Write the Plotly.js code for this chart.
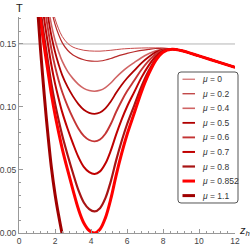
<!DOCTYPE html>
<html>
<head>
<meta charset="utf-8">
<script src="https://cdn.plot.ly/plotly-3.0.1.min.js"></script>
<style>html,body{margin:0;padding:0;background:#fff;}#chart{width:250px;height:250px;}</style>
</head>
<body>
<div id="chart"></div>
<script>
// ---- data ----
const zGrid = [1.0,1.2,1.4,1.6,1.8,2.0,2.2,2.4,2.7,3.0,3.3,3.6,3.9,4.2,4.5,4.8,5.1,5.4,5.7,6.0,6.4,6.8,7.2,7.6,8.0,8.5,9.0,10,11,12];
const T_mu0    = [0.275,0.240,0.215,0.196,0.181,0.170,0.162,0.156,0.1505,0.1475,0.146,0.145,0.1445,0.1443,0.1443,0.1446,0.1450,0.1455,0.1460,0.1463,0.1466,0.1468,0.1469,0.1469,0.1467,0.1461,0.1448,0.1405,0.1360,0.1315];
const T_mu02   = [0.2703,0.2360,0.2113,0.1923,0.1771,0.1658,0.1575,0.1511,0.1450,0.1412,0.1390,0.1375,0.1366,0.1363,0.1365,0.1373,0.1385,0.1400,0.1414,0.1425,0.1438,0.1449,0.1457,0.1464,0.1465,0.1461,0.1448,0.1405,0.1360,0.1315];
const T_mu04   = [0.2563,0.2241,0.2002,0.1812,0.1654,0.1532,0.1439,0.1364,0.1283,0.1225,0.1180,0.1148,0.1131,0.1125,0.1132,0.1154,0.1190,0.1236,0.1277,0.1312,0.1352,0.1391,0.1423,0.1447,0.1460,0.1461,0.1448,0.1405,0.1360,0.1315];
const T_mu05   = [0.2457,0.2152,0.1919,0.1729,0.1565,0.1438,0.1338,0.1253,0.1159,0.1084,0.1023,0.0978,0.0954,0.0946,0.0956,0.0989,0.1044,0.1112,0.1174,0.1228,0.1288,0.1348,0.1397,0.1435,0.1456,0.1460,0.1448,0.1405,0.1360,0.1315];
const T_mu06   = [0.2328,0.2043,0.1818,0.1628,0.1458,0.1323,0.1213,0.1119,0.1007,0.0912,0.0830,0.0771,0.0738,0.0727,0.0742,0.0788,0.0865,0.0962,0.1048,0.1124,0.1210,0.1295,0.1365,0.1420,0.1451,0.1460,0.1448,0.1405,0.1360,0.1315];
const T_mu07   = [0.2176,0.1914,0.1698,0.1508,0.1331,0.1187,0.1067,0.0959,0.0827,0.0709,0.0603,0.0525,0.0483,0.0469,0.0489,0.0551,0.0654,0.0783,0.0900,0.1002,0.1118,0.1233,0.1328,0.1402,0.1445,0.1459,0.1448,0.1405,0.1360,0.1315];
const T_mu08   = [0.2001,0.1765,0.1559,0.1369,0.1184,0.1030,0.0897,0.0775,0.0619,0.0474,0.0340,0.0242,0.0189,0.0171,0.0197,0.0277,0.0410,0.0578,0.0728,0.0861,0.1011,0.1161,0.1285,0.1382,0.1439,0.1458,0.1448,0.1405,0.1360,0.1315];
const T_mu0852 = [0.190,0.168,0.148,0.129,0.110,0.094,0.080,0.067,0.050,0.034,0.019,0.008,0.002,0.000,0.003,0.012,0.027,0.046,0.063,0.078,0.095,0.112,0.126,0.137,0.1435,0.1458,0.1448,0.1405,0.1360,0.1315];
const zMu11    = [0.9,1.0,1.1,1.2,1.3,1.4,1.5,1.6,1.8,2.0,2.2,2.4,2.5];
const T_mu11   = [0.210,0.186,0.165,0.145,0.127,0.110,0.094,0.079,0.052,0.031,0.014,-0.001,-0.008];
const muLabels = ['0','0.2','0.4','0.5','0.6','0.7','0.8','0.852','1.1'];
const refLineZ = [0, 12];
const refLineT = [0.15, 0.15];
const xTickVals = [0,2,4,6,8,10,12];
const yTickVals = [0,0.05,0.10,0.15];

// ---- styles ----
const seriesT = [T_mu0,T_mu02,T_mu04,T_mu05,T_mu06,T_mu07,T_mu08,T_mu0852,T_mu11];
const seriesZ = [zGrid,zGrid,zGrid,zGrid,zGrid,zGrid,zGrid,zGrid,zMu11];
const colors = ['#c84a4a','#b82a2a','#d06464','#b00000','#c43434','#c00000','#a81414','#ff0000','#a00000'];
const widths = [1.0,1.2,1.6,1.8,1.9,2.0,2.2,3.0,3.0];
const FONT = 'Liberation Sans, Arial, sans-serif';

const traces = [{
  x: refLineZ, y: refLineT, mode: 'lines', showlegend: false, hoverinfo: 'skip',
  line: {color: '#b4b4b4', width: 1}
}];
seriesT.forEach((t, i) => {
  traces.push({
    x: seriesZ[i], y: t, mode: 'lines', name: 'μ = ' + muLabels[i], showlegend: false,
    line: {color: colors[i], width: widths[i], shape: 'spline', smoothing: 1}
  });
});

// plot area in pixels: left 19, right 235, top 17, bottom 233
const L0 = 19, R0 = 235, T0px = 17, B0 = 233;
const px2x = px => (px - L0) / (R0 - L0);
const py2y = py => (B0 - py) / (B0 - T0px);

const shapes = [];
const annotations = [];
// legend box (rounded)
const bl = 178, br = 238, bt = 72, bb = 203, r = 3;
const P = (px, py) => px2x(px).toFixed(5) + ',' + py2y(py).toFixed(5);
shapes.push({
  type: 'path', xref: 'paper', yref: 'paper', layer: 'above',
  path: 'M' + P(bl + r, bt) + ' L' + P(br - r, bt) + ' Q' + P(br, bt) + ' ' + P(br, bt + r) +
        ' L' + P(br, bb - r) + ' Q' + P(br, bb) + ' ' + P(br - r, bb) +
        ' L' + P(bl + r, bb) + ' Q' + P(bl, bb) + ' ' + P(bl, bb - r) +
        ' L' + P(bl, bt + r) + ' Q' + P(bl, bt) + ' ' + P(bl + r, bt) + ' Z',
  line: {color: '#555', width: 1}, fillcolor: '#ffffff'
});
muLabels.forEach((lab, i) => {
  const yc = 79.2 + i * 14.55;
  shapes.push({
    type: 'line', xref: 'paper', yref: 'paper', layer: 'above',
    x0: px2x(182.5), x1: px2x(195), y0: py2y(yc), y1: py2y(yc),
    line: {color: colors[i], width: widths[i]}
  });
  annotations.push({
    xref: 'paper', yref: 'paper', x: px2x(199.5), y: py2y(yc),
    xanchor: 'left', yanchor: 'middle', showarrow: false,
    text: '<i>μ</i> = ' + lab, font: {family: FONT, size: 8.5, color: '#333'}
  });
});
// axis labels
annotations.push({
  xref: 'paper', yref: 'paper', x: 0, y: 1, xanchor: 'center', yanchor: 'bottom', yshift: 1,
  showarrow: false, text: 'T', font: {family: FONT, size: 11, color: '#222'}
});
annotations.push({
  xref: 'paper', yref: 'paper', x: 1, y: 0, xanchor: 'left', yanchor: 'middle', xshift: 2, yshift: 2,
  showarrow: false, text: '<i>z</i><sub><i>h</i></sub>', font: {family: FONT, size: 11, color: '#222'}
});

const axisCommon = {
  showline: true, linecolor: '#999', linewidth: 1, ticks: 'inside', ticklen: 4,
  tickcolor: '#999', tickwidth: 1, showgrid: false, zeroline: false,
  tickfont: {family: FONT, size: 8.5, color: '#444'}
};
const layout = {
  width: 250, height: 250,
  margin: {l: L0, r: 250 - R0, t: T0px, b: 250 - B0, pad: 0},
  paper_bgcolor: '#fff', plot_bgcolor: '#fff',
  showlegend: false,
  xaxis: Object.assign({}, axisCommon, {
    range: [0, 12], tickmode: 'array', tickvals: xTickVals,
    minor: {ticks: 'inside', ticklen: 2, dtick: 0.4, tick0: 0, tickcolor: '#999', showgrid: false}
  }),
  yaxis: Object.assign({}, axisCommon, {
    range: [0, 0.1714], tickmode: 'array', tickvals: yTickVals, tickformat: '.2f',
    minor: {ticks: 'inside', ticklen: 2, dtick: 0.01, tick0: 0, tickcolor: '#999', showgrid: false}
  }),
  shapes: shapes, annotations: annotations
};
Plotly.newPlot('chart', traces, layout, {staticPlot: true, displayModeBar: false});
</script>
</body>
</html>
